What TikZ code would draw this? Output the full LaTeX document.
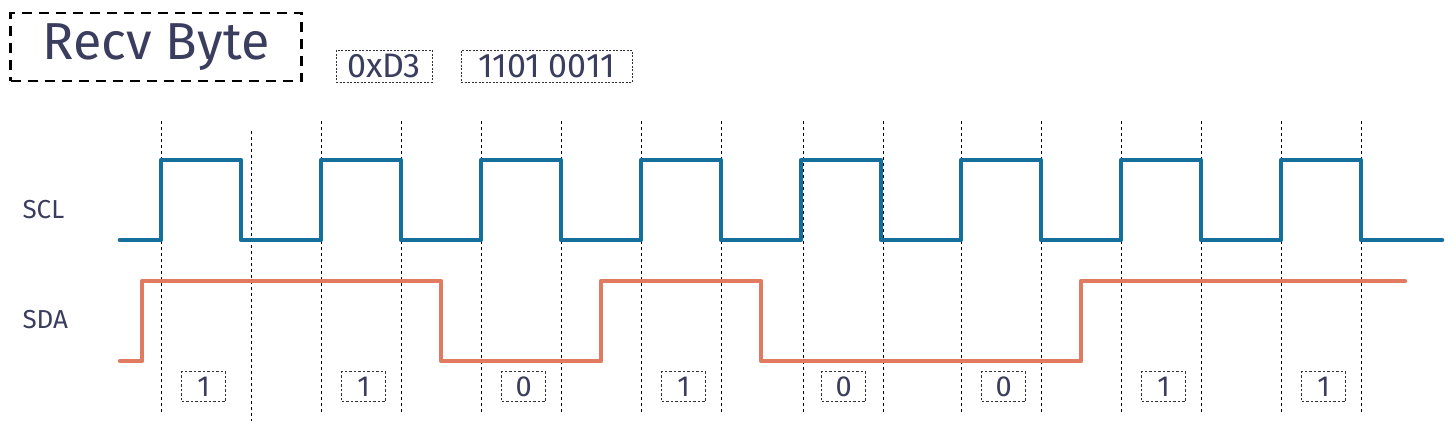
\documentclass[tikz,border=0pt]{standalone}
\usepackage{fontspec}
\setmainfont{Fira Sans}
\definecolor{ink}{RGB}{58,61,94}
\definecolor{sclblue}{RGB}{20,112,154}
\definecolor{sdaorange}{RGB}{224,122,96}
\tikzset{
  scl/.style={draw=sclblue, line width=4.6pt, line join=round, line cap=round},
  sda/.style={draw=sdaorange, line width=4.4pt, line join=round, line cap=round},
  gridline/.style={draw=black, line width=0.9pt, dash pattern=on 3pt off 3pt},
  bitbox/.style={draw=black!80, line width=0.7pt, dash pattern=on 2.5pt off 2pt,
    minimum width=44pt, minimum height=30pt, inner sep=0pt, text=ink,
    font=\fontsize{29}{29}\selectfont},
  valbox/.style={draw=black!80, line width=0.7pt, dash pattern=on 2pt off 1.5pt,
    minimum height=32pt, inner sep=0pt, text=ink,
    font=\fontsize{34}{34}\selectfont},
  sig/.style={text=ink, font=\fontsize{26}{26}\selectfont, anchor=west},
}
\begin{document}
\begin{tikzpicture}[x=1pt, y=-1pt]
\useasboundingbox (0,0) rectangle (1456,434);
% title
\node[draw=black, line width=2.6pt, dash pattern=on 10pt off 7pt,
  minimum width=291pt, minimum height=68pt, inner sep=0pt, text=ink,
  font=\fontsize{52}{52}\selectfont] (title) at (156,47) {Recv Byte};
\node[valbox, minimum width=96pt] (hex) at (384,66) {0xD3};
\node[valbox, minimum width=171pt] (bin) at (546.5,66) {1101 0011};
% signal labels
\node[sig] (scl) at (19,210) {SCL};
\node[sig] (sda) at (19,320) {SDA};
% grid lines
\foreach \x in {161,321,401,481,561,641,721,803,883,961,1041,1121,1201,1281,1361}
  \draw[gridline] (\x,121) -- (\x,412);
\draw[gridline] (251,131) -- (251,421);
% SCL
\draw[scl] (120,240)
  \foreach \k in {0,...,7} { -- ({161+160*\k},240) -- ({161+160*\k},160)
    -- ({241+160*\k},160) -- ({241+160*\k},240) } -- (1442,240);
% SDA
\draw[sda] (120,361) -- (142,361) -- (142,281) -- (441,281) -- (441,361)
  -- (601,361) -- (601,281) -- (761,281) -- (761,361) -- (1081,361)
  -- (1081,281) -- (1405,281);
% bits
\foreach \b [count=\i from 0] in {1,1,0,1,0,0,1,1}
  \node[bitbox] (bit\i) at ({203.7+160*\i},386.7) {\b};
\end{tikzpicture}
\end{document}
